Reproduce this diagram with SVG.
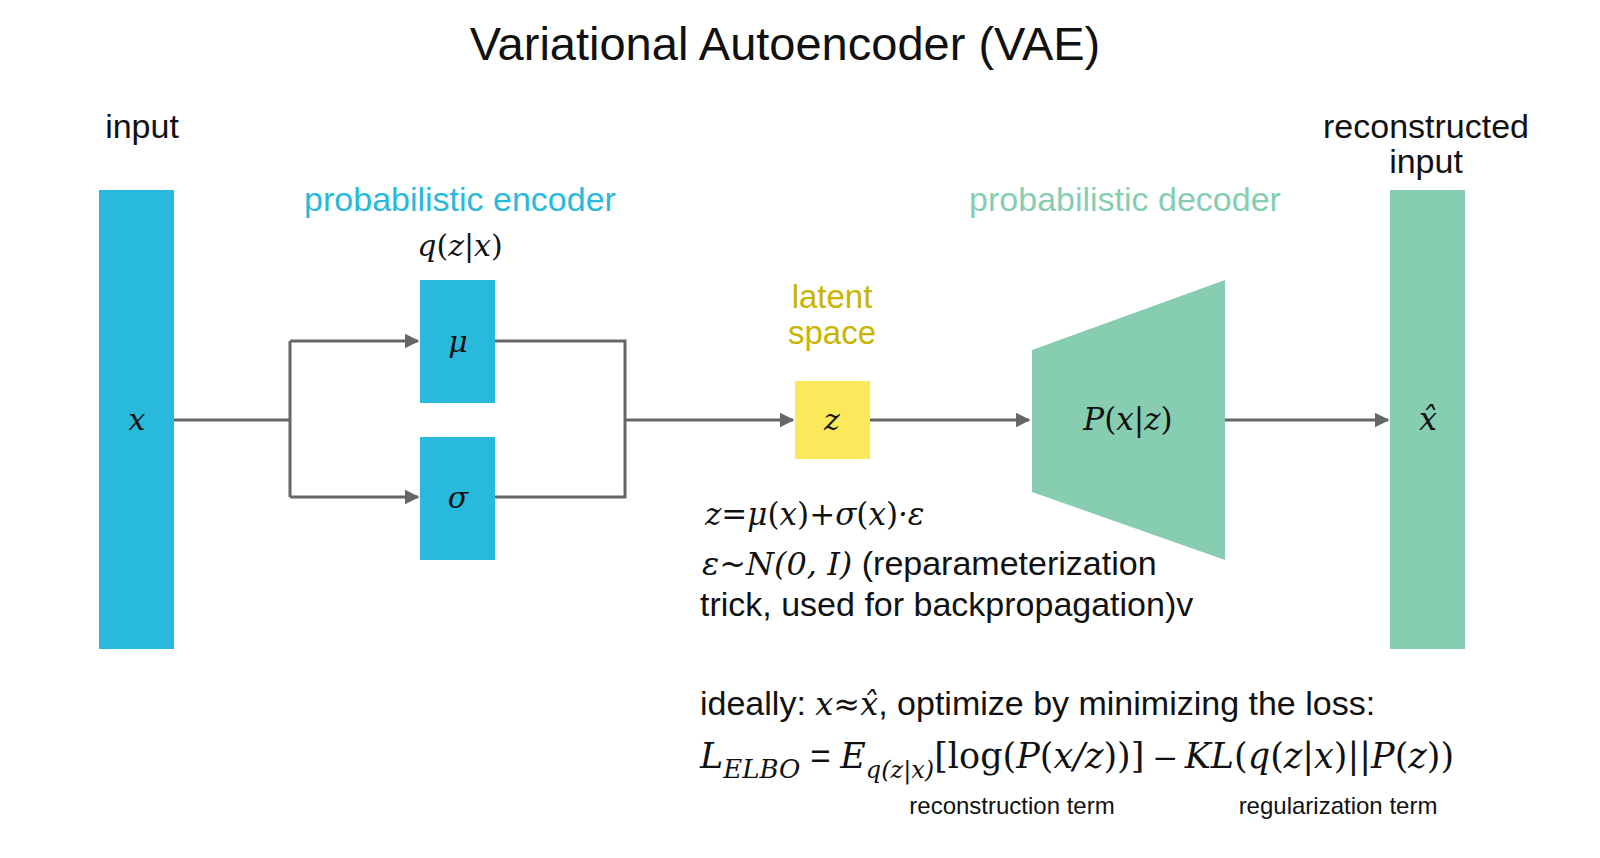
<svg xmlns="http://www.w3.org/2000/svg" width="1600" height="858" viewBox="0 0 1600 858">
<style>
.s{font-family:"Liberation Sans",Arial,sans-serif;fill:#111;font-style:normal}
.m{font-family:"DejaVu Serif","Liberation Serif",serif;font-style:italic;fill:#111}
.u{font-style:normal}
.c{stroke:#666;stroke-width:3;fill:none}
</style>
<defs><marker id="a" viewBox="0 0 10 10" refX="9" refY="5" markerWidth="5" markerHeight="5" orient="auto"><path d="M0,0L10,5L0,10z" fill="#666"/></marker></defs>
<rect width="1600" height="858" fill="#fff"/>
<text class="s" x="785" y="60" font-size="47" text-anchor="middle">Variational Autoencoder (VAE)</text>
<text class="s" x="142" y="138" font-size="34" text-anchor="middle">input</text>
<text class="s" x="1426" y="138" font-size="34" text-anchor="middle">reconstructed</text>
<text class="s" x="1426" y="173" font-size="34" text-anchor="middle">input</text>
<text class="s" x="460" y="211" font-size="34" text-anchor="middle" style="fill:#29B9DB">probabilistic encoder</text>
<text class="s" x="1125" y="211" font-size="34" text-anchor="middle" style="fill:#86CDB1">probabilistic decoder</text>
<text class="m" x="460" y="256" font-size="30" text-anchor="middle">q<tspan class="u">(</tspan>z<tspan class="u">|</tspan>x<tspan class="u">)</tspan></text>
<text class="s" x="832" y="308" font-size="33" text-anchor="middle" style="fill:#C9B400">latent</text>
<text class="s" x="832" y="344" font-size="33" text-anchor="middle" style="fill:#C9B400">space</text>
<g id="conn">
<path class="c" d="M174,420H290M290,341V497"/>
<path class="c" d="M290,341H418" marker-end="url(#a)"/>
<path class="c" d="M290,497H418" marker-end="url(#a)"/>
<path class="c" d="M495,341H625V497H495"/>
<path class="c" d="M625,420H793" marker-end="url(#a)"/>
<path class="c" d="M870,420H1029" marker-end="url(#a)"/>
<path class="c" d="M1225,420H1388" marker-end="url(#a)"/>
</g>
<g id="input"><rect x="99" y="190" width="75" height="459" fill="#29B9DB"/><text class="m" x="137" y="430" font-size="30" text-anchor="middle">x</text></g>
<g id="mu"><rect x="420" y="280" width="75" height="123" fill="#29B9DB"/><text class="m" x="458" y="352" font-size="30" text-anchor="middle">μ</text></g>
<g id="sigma"><rect x="420" y="437" width="75" height="123" fill="#29B9DB"/><text class="m" x="458" y="508" font-size="30" text-anchor="middle">σ</text></g>
<g id="z"><rect x="795" y="381" width="75" height="78" fill="#FCE85B"/><text class="m" x="832" y="430" font-size="30" text-anchor="middle">z</text></g>
<g id="decoder"><polygon points="1032,350 1225,280 1225,560 1032,492" fill="#86CDB1"/><text class="m" x="1128" y="430" font-size="31" text-anchor="middle">P<tspan class="u">(</tspan>x<tspan class="u">|</tspan>z<tspan class="u">)</tspan></text></g>
<g id="output"><rect x="1390" y="190" width="75" height="459" fill="#86CDB1"/><text class="m" x="1428" y="430" font-size="32" text-anchor="middle">x̂</text></g>
<text class="m" x="705" y="525" font-size="31">z=μ<tspan class="u">(</tspan>x<tspan class="u">)</tspan>+σ<tspan class="u">(</tspan>x<tspan class="u">)</tspan>·ε</text>
<text x="702" y="575" font-size="34"><tspan class="m" font-size="32">ε~N(0, I)</tspan><tspan class="s"> (reparameterization</tspan></text>
<text class="s" x="700" y="616" font-size="34">trick, used for backpropagation)v</text>
<text x="700" y="715" font-size="34"><tspan class="s">ideally: </tspan><tspan class="m" font-size="32">x≈x̂</tspan><tspan class="s">, optimize by minimizing the loss:</tspan></text>
<text x="700" y="768" font-size="35" class="m">L<tspan font-size="26" dy="10">ELBO</tspan><tspan dy="-10" class="s"> = </tspan>E<tspan font-size="24" dy="10">q(z|x)</tspan><tspan dy="-10" class="u">[log(</tspan>P<tspan class="u">(</tspan>x/z<tspan class="u">))] </tspan><tspan class="s">– </tspan>KL<tspan class="u">(</tspan>q<tspan class="u">(</tspan>z<tspan class="u">|</tspan>x<tspan class="u">)||</tspan>P<tspan class="u">(</tspan>z<tspan class="u">))</tspan></text>
<text class="s" x="1012" y="814" font-size="24" text-anchor="middle">reconstruction term</text>
<text class="s" x="1338" y="814" font-size="24" text-anchor="middle">regularization term</text>
</svg>
